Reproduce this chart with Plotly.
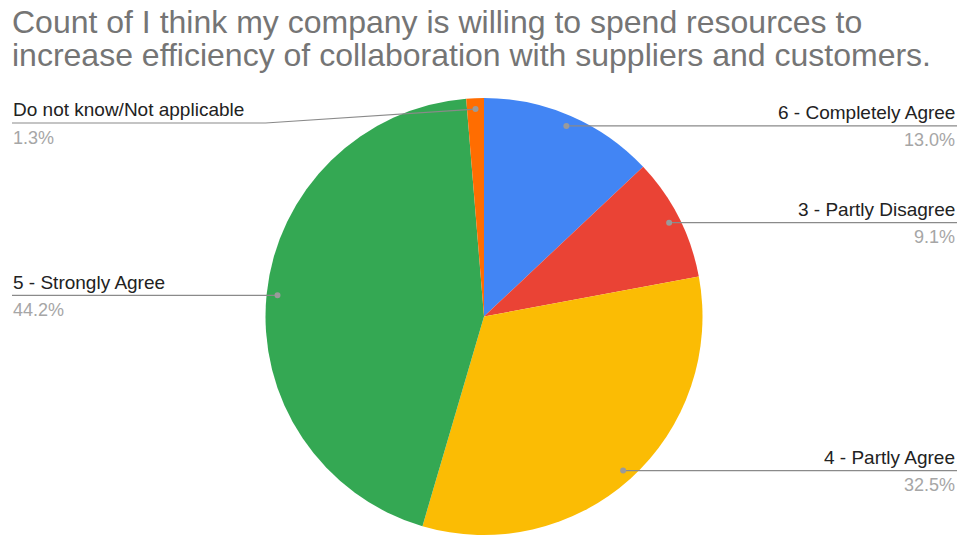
import math
import plotly.graph_objects as go

# Survey responses, in the order the slices are drawn (clockwise from 12 o'clock)
categories = ["6 - Completely Agree", "3 - Partly Disagree", "4 - Partly Agree",
              "5 - Strongly Agree", "Do not know/Not applicable"]
counts = [10, 7, 25, 34, 1]
colors = ["#4285F4", "#EA4335", "#FBBC04", "#34A853", "#FF6D01"]

title_lines = ["Count of I think my company is willing to spend resources to",
               "increase efficiency of collaboration with suppliers and customers."]

W, H = 960, 536
CX, CY, R = 484, 316.5, 218.5       # pie centre and radius in pixels
DOT_R = 0.95                         # leader dot position as a fraction of radius
LEFT_X, RIGHT_X = 12, 957            # label column edges
MIN_LINE_Y = 123                     # keep leader labels below the title


def px(x):
    return x / W


def py(y):
    return 1 - y / H


fig = go.Figure(go.Pie(
    labels=categories,
    values=counts,
    sort=False,
    direction="clockwise",
    rotation=0,
    marker=dict(colors=colors, line=dict(width=0)),
    textinfo="none",
    hoverinfo="label+value+percent",
    showlegend=False,
    domain=dict(x=[px(CX - R), px(CX + R)], y=[py(CY + R), py(CY - R)]),
))

shapes = []
annotations = []

total = sum(counts)
cum = 0
for label, value in zip(categories, counts):
    frac = value / total
    mid = (cum + frac / 2) * 2 * math.pi
    cum += frac
    dx = math.sin(mid) * R * DOT_R
    dy = -math.cos(mid) * R * DOT_R
    dot_x, dot_y = CX + dx, CY + dy
    line_y = max(dot_y, MIN_LINE_Y)
    right = dot_x > CX

    if right:
        path = f"M {px(dot_x)} {py(dot_y)} L {px(RIGHT_X)} {py(line_y)}"
    else:
        elbow_x = CX - R
        path = (f"M {px(LEFT_X)} {py(line_y)} L {px(elbow_x)} {py(line_y)} "
                f"L {px(dot_x)} {py(dot_y)}")
    shapes.append(dict(type="path", xref="paper", yref="paper", path=path,
                       line=dict(color="#8a8a8a", width=1.2)))
    shapes.append(dict(type="circle", xref="paper", yref="paper",
                       x0=px(dot_x - 3), x1=px(dot_x + 3),
                       y0=py(dot_y + 3), y1=py(dot_y - 3),
                       fillcolor="#9a9a9a", line=dict(width=0)))

    tx = RIGHT_X - 1 if right else LEFT_X
    anchor = "right" if right else "left"
    annotations.append(dict(
        x=px(tx), y=py(line_y - 13), xref="paper", yref="paper",
        text=label, showarrow=False, xanchor=anchor, yanchor="middle",
        font=dict(family="Arial", size=19, color="#222222"), borderpad=0))
    annotations.append(dict(
        x=px(tx), y=py(line_y + 14.5), xref="paper", yref="paper",
        text=f"{frac * 100:.1f}%", showarrow=False, xanchor=anchor,
        yanchor="middle",
        font=dict(family="Arial", size=18, color="#a6a6a6"), borderpad=0))

for i, line in enumerate(title_lines):
    annotations.append(dict(
        x=px(11), y=py(22.5 + 33 * i), xref="paper", yref="paper",
        text=line, showarrow=False, xanchor="left", yanchor="middle",
        font=dict(family="Arial", size=32, color="#757575"), borderpad=0))

fig.update_layout(
    width=W, height=H,
    margin=dict(l=0, r=0, t=0, b=0),
    paper_bgcolor="white",
    plot_bgcolor="white",
    shapes=shapes,
    annotations=annotations,
)

fig.write_html("out.html")
